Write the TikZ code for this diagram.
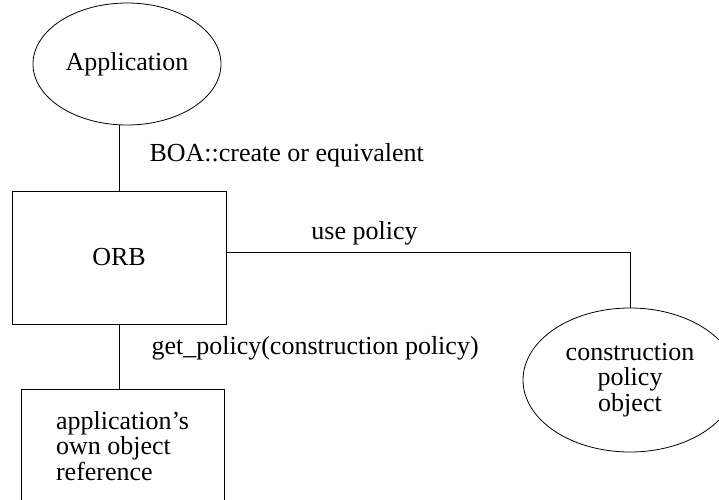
\documentclass[tikz,border=0pt]{standalone}
\usepackage{fontspec}
\setmainfont{Liberation Serif}
\usetikzlibrary{shapes.geometric,positioning}

\begin{document}
\begin{tikzpicture}[x=1pt,y=-1pt,
    every node/.style={font=\fontsize{26}{25.5}\selectfont},
    box/.style={draw,rectangle,inner sep=0pt,line width=0.8pt},
    blob/.style={draw,ellipse,inner sep=0pt,line width=0.8pt},
    link/.style={line width=0.8pt}]
        \clip (0,0) rectangle (719,499);
        \node[blob,minimum width=188,minimum height=122] (app) at (127,64) {Application};
        \node[box,minimum width=214,minimum height=133] (orb) at (119,257.5) {ORB};
        \node[box,minimum width=203,minimum height=114,align=left] (ref) at (122.5,446) {application's\\own object\\reference};
        \node[blob,minimum width=214,minimum height=144,align=center] (pol) at (630,380) {construction\\policy\\object};
        \draw[link] (orb.north) -- (orb.north |- app.south);
        \draw[link] (orb.south) -- (orb.south |- ref.north);
        \draw[link] ([yshift=5.5pt]orb.east) -| (pol.north);
        \node[anchor=west] (boa) at (146,155) {BOA::create or equivalent};
        \node (use) at (364.5,233) {use policy};
        \node[anchor=west] (get) at (148,348) {get\_policy(construction policy)};
      \end{tikzpicture}
\end{document}
